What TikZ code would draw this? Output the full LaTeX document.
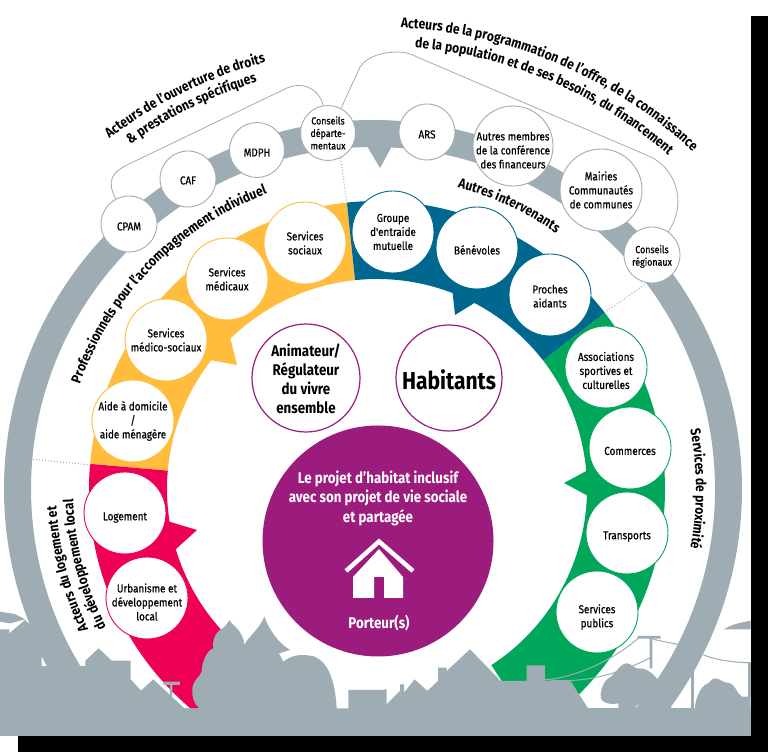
\documentclass[tikz,border=0pt]{standalone}
\usepackage{fontspec}
\setmainfont[FakeStretch=0.86]{Fira Sans}
\newfontfamily\bubfont[FakeStretch=0.86, FakeBold=0.5]{Fira Sans}
\usetikzlibrary{positioning,calc,decorations.text}
\definecolor{ringgrey}{RGB}{158,173,180}
\definecolor{aidyellow}{RGB}{255,188,61}
\definecolor{aidblue}{RGB}{0,103,142}
\definecolor{aidgreen}{RGB}{0,166,90}
\definecolor{aidred}{RGB}{238,0,86}
\definecolor{habpurple}{RGB}{155,28,124}

\tikzset{
  lowered/.style={execute at begin node={\rule{0pt}{#1}}},
  bubble/.style={circle, fill=white, inner sep=-10pt, align=center, line width=0.9pt, font=\bubfont\fontsize{11.5}{14}\selectfont},
  greybub/.style={bubble, draw=ringgrey},
  yellowbub/.style={bubble, draw=aidyellow, minimum size=82pt},
  bluebub/.style={bubble, draw=aidblue, minimum size=82pt},
  greenbub/.style={bubble, draw=aidgreen, minimum size=82pt},
  redbub/.style={bubble, draw=aidred, minimum size=82pt},
  midbub/.style={circle, fill=white, draw=habpurple, line width=1.2pt, inner sep=-12pt, align=center},
  brace/.style={draw=ringgrey, line width=0.8pt},
  dotline/.style={draw=ringgrey, line width=1pt, dotted},
  wire/.style={draw=ringgrey, line width=1pt}
}
% curved headings: radius, start angle, end angle, text
\newcommand{\arclabel}[4]{\path[shift={(377,263)}, decorate, decoration={text along path, text align=center, text={|\bfseries\fontsize{14}{14}\selectfont|#4}}] (#2:#1) arc[start angle=#2, end angle=#3, radius=#1];}
% one coloured sector of the ring: colour, from, to
\newcommand{\sector}[3]{\fill[#1, shift={(377,263)}] (#2:210) arc[start angle=#2, end angle=#3, radius=210] -- (#3:288) arc[start angle=#3, end angle=#2, radius=288] -- cycle;}

\begin{document}
\begin{tikzpicture}[x=1pt, y=1pt]
\useasboundingbox (0,0) rectangle (768,752);
% Page and its shadow
\fill[black] (18,0) rectangle (768,736);
\fill[white] (0,16) rectangle (751,752);

% Outer ring
\fill[ringgrey, shift={(373,263)}] (222:369) arc[start angle=222, end angle=-42, radius=369] -- (-42:342) arc[start angle=-42, end angle=222, radius=342] -- cycle;
\fill[ringgrey] (367,606) -- (380,584) -- (392,606) -- cycle;

% Coloured sectors
\sector{aidyellow}{175}{96}
\sector{aidblue}{96}{37.7}
\sector{aidgreen}{37.7}{-57}
\sector{aidred}{232}{175}

% Pointers
\fill[aidyellow] (230,415) -- (237,387) -- (210,392) -- (200,420) -- cycle;
\fill[aidblue] (452,465) -- (455,437) -- (476,450) -- (480,470) -- cycle;
\fill[aidred] (167,231) -- (197,222) -- (176,203) -- (160,210) -- cycle;
\fill[aidgreen] (590,283) -- (564,269) -- (590,255) -- (600,270) -- cycle;

% Grey bubbles
\node[greybub, minimum size=56pt, lowered=13pt] (cpam) at (129,528) {CPAM};
\node[greybub, minimum size=56pt, lowered=11pt] (caf) at (188,573) {CAF};
\node[greybub, minimum size=55pt, lowered=13pt] (mdph) at (257,602) {MDPH};
\node[greybub, minimum size=55pt, font=\bubfont\fontsize{10.3}{12.5}\selectfont] (condep) at (328,619) {Conseils\\départe-\\mentaux};
\node[greybub, minimum size=56pt, lowered=13pt] (ars) at (427,620) {ARS};
\node[greybub, minimum size=80pt] (autres) at (513,606) {\rule{0pt}{17pt}Autres membres\\de la conférence\\des financeurs};
\node[greybub, minimum size=82pt] (mairies) at (601,562) {Mairies\\Communautés\\de communes};
\node[greybub, minimum size=56pt, font=\bubfont\fontsize{10.3}{12.5}\selectfont] (conreg) at (652,497) {\rule{0pt}{11pt}Conseils\\régionaux};

% Brackets
\draw[brace] (cpam.118) .. controls (106,572) and (113,580) .. (127,587) -- (287,664) .. controls (300,670) and (318,666) .. (condep.100);
\draw[brace] (condep.62) -- (360,685) .. controls (368,697) and (385,700) .. (399,700) .. controls (405,700) and (411,698) .. (417,695) -- (651,595) .. controls (675,583) and (688,550) .. (conreg.55);

% Dotted limits
\coordinate (limblue) at (347,547);
\coordinate (limgreen) at (604,439);
\coordinate (limleft) at (30,293);
\coordinate (limred) at (91,287);
\draw[dotline] (condep.-63) -- (limblue);
\draw[dotline] (conreg.260) -- (limgreen);
\draw[dotline] (limleft) -- (limred);

% Yellow bubbles
\node[yellowbub] (socsoc) at (305,509) {Services\\sociaux};
\node[yellowbub] (medicaux) at (227,473) {Services\\médicaux};
\node[yellowbub] (medsoc) at (166,412) {Services\\médico-sociaux};
\node[yellowbub] (aide) at (133,331) {Aide à domicile\\/\\aide ménagère};

% Red bubbles
\node[redbub, lowered=17pt] (logement) at (125,239) {Logement};
\node[redbub] (urbanisme) at (147,154) {\rule{0pt}{17pt}Urbanisme et\\développement\\local};

% Blue bubbles
\node[bluebub] (groupe) at (393,520) {Groupe\\d'entraide\\mutuelle};
\node[bluebub, lowered=13pt] (benevoles) at (477,504) {Bénévoles};
\node[bluebub] (proches) at (550,457) {\rule{0pt}{11pt}Proches\\aidants};

% Green bubbles
\node[greenbub] (asso) at (606,385) {\rule{0pt}{16pt}Associations\\sportives et\\culturelles};
\node[greenbub, lowered=14pt] (commerces) at (630,304) {Commerces};
\node[greenbub, lowered=15pt] (transports) at (627,219) {Transports};
\node[greenbub] (publics) at (597,140) {\rule{0pt}{19pt}Services\\publics};

% Middle
\node[midbub, minimum size=108pt, font=\bfseries\fontsize{15.5}{19}\selectfont] (animateur) at (306,374) {\rule{0pt}{15pt}Animateur/\\Régulateur\\du vivre\\ensemble};
\node[midbub, minimum size=106pt, lowered=24pt, font=\bfseries\fontsize{24.5}{28}\selectfont] (habitants) at (449,374) {Habitants};
\fill[habpurple] (378,211) circle[radius=115.5];
\node[white, align=center, font=\bfseries\fontsize{15.5}{19.5}\selectfont] (projet) at (378,254) {Le projet d'habitat inclusif\\avec son projet de vie sociale\\et partagée};
\node[white, font=\bfseries\fontsize{15.5}{17}\selectfont] (porteur) at (379,129) {Porteur(s)};

% House
\draw[white, line width=4.5pt] (346,181) -- (379,210.5) -- (413,181);
\fill[white] (353,154) -- (353,175) -- (379,203) -- (403,175) -- (403,154) -- (384,154) -- (384,175) -- (374,175) -- (374,154) -- cycle;

% Skyline, left
\begin{scope}[shift={(0,162)}, x=0.3333pt, y=-0.3333pt]
\fill[ringgrey] (0,65) -- (45,72) -- (75,88) -- (30,100) -- (0,95) -- cycle;
\fill[ringgrey] (0,118) -- (28,118) -- (28,130) -- (75,90) -- (225,228) -- (256,228) -- (256,212) -- (296,175) -- (335,212) -- (392,212) -- (392,268) -- (423,302) -- (460,268) -- (553,355) -- (600,355) -- (600,438) -- (0,438) -- cycle;
\fill[white] (125,200) -- (140,228) -- (125,228) -- cycle;
\draw[white, line width=1.3pt] (478,270) -- (563,355);
\fill[ringgrey] (490,275) -- (540,275) -- (540,285) -- (517,285) -- (517,320) -- (510,320) -- (510,285) -- (490,285) -- cycle;
\end{scope}
% Skyline, bushes
\begin{scope}[shift={(185,152)}, x=0.3333pt, y=-0.3333pt]
\fill[ringgrey] (-60,325) -- (42,325) .. controls (25,310) and (20,285) .. (22,265) .. controls (25,240) and (45,230) .. (50,215) .. controls (50,190) and (65,150) .. (85,145) .. controls (80,125) and (90,100) .. (105,90) .. controls (115,85) and (125,75) .. (133,60) .. controls (140,75) and (175,90) .. (178,135) .. controls (190,110) and (225,85) .. (238,50) .. controls (250,85) and (280,130) .. (315,150) -- (282,160) -- (295,185) .. controls (320,165) and (350,160) .. (390,170) .. controls (430,190) and (450,240) .. (455,325) -- (490,325) -- (490,270) -- (600,270) -- (600,408) -- (-60,408) -- cycle;
\end{scope}
% Skyline, roofs
\begin{scope}[shift={(384,376)}, x=0.3333pt, y=-0.3333pt]
\fill[ringgrey] (0,940) -- (8,940) -- (8,985) -- (48,945) -- (48,925) -- (60,925) -- (60,950) -- (92,910) -- (130,945) -- (162,915) -- (162,875) -- (188,875) -- (188,885) -- (258,820) -- (350,915) -- (428,915) -- (428,868) -- (483,868) -- (483,915) -- (560,915) -- (612,997) -- (700,997) -- (700,1080) -- (0,1080) -- cycle;
\draw[wire] (478,912) .. controls (580,905) and (690,850) .. (765,785);
\draw[wire] (478,910) .. controls (600,925) and (700,895) .. (800,845);
\end{scope}
% Skyline, trees and poles
\begin{scope}[shift={(590,152)}, x=0.3333pt, y=-0.3333pt]
\draw[wire] (190,118) .. controls (220,125) and (250,130) .. (270,135);
\draw[wire] (340,165) .. controls (380,180) and (430,188) .. (482,188);
\fill[ringgrey] (143,108) -- (212,108) -- (212,116) -- (187,116) -- (187,205) -- (179,205) -- (179,116) -- (143,116) -- cycle;
\fill[ringgrey] (402,88) .. controls (420,75) and (450,68) .. (482,62) -- (482,88) -- cycle;
\fill[ringgrey] (304,205) rectangle (311,325);
\fill[ringgrey] (475,188) rectangle (482,290);
\fill[ringgrey] (85,326) -- (85,310) .. controls (60,315) and (30,310) .. (32,285) .. controls (32,265) and (45,240) .. (55,235) .. controls (70,230) and (90,190) .. (110,190) .. controls (125,190) and (135,210) .. (150,205) .. controls (165,205) and (185,215) .. (205,240) -- (245,326) -- (160,326) -- (160,305) -- (138,318) -- (135,326) -- cycle;
\fill[ringgrey] (315,325) .. controls (315,300) and (330,265) .. (345,255) .. controls (360,250) and (365,235) .. (375,235) .. controls (390,235) and (400,250) .. (415,248) .. controls (435,250) and (440,280) .. (455,290) -- (482,290) -- (482,325) -- cycle;
\fill[ringgrey] (-10,325) rectangle (482,408);
\end{scope}

% Curved headings
\arclabel{441}{136}{96}{Acteurs de l'ouverture de droits}
\arclabel{424}{135}{97}{{\&} prestations spécifiques}
\arclabel{462}{97}{37}{Acteurs de la programmation de l'offre, de la connaissance}
\arclabel{443}{95}{39}{de la population et de ses besoins, du financement}
\arclabel{315}{170}{101}{Professionnels pour l'accompagnement individuel}
\arclabel{312}{85}{45}{Autres intervenants}
\arclabel{319}{20}{-20}{Services de proximité}
\arclabel{321}{217}{172}{Acteurs du logement et}
\arclabel{304}{217}{172}{du développement local}
\end{tikzpicture}
\end{document}
